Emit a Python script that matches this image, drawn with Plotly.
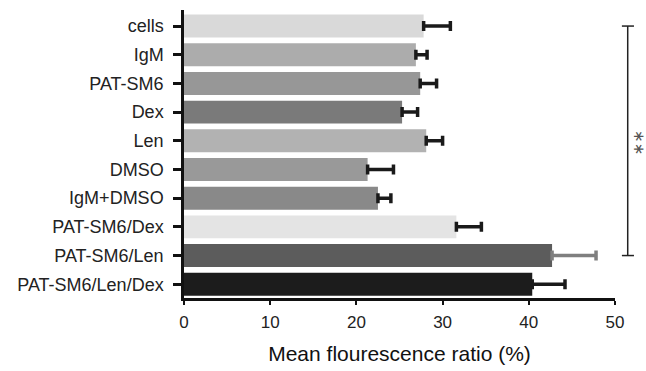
import plotly.graph_objects as go

categories = ["cells", "IgM", "PAT-SM6", "Dex", "Len", "DMSO", "IgM+DMSO",
              "PAT-SM6/Dex", "PAT-SM6/Len", "PAT-SM6/Len/Dex"]
means = [27.8, 26.9, 27.4, 25.3, 28.1, 21.3, 22.5, 31.6, 42.7, 40.4]
errors = [3.1, 1.3, 1.9, 1.8, 1.9, 3.0, 1.5, 2.9, 5.1, 3.8]
bar_colors = ["#d9d9d9", "#acacac", "#979797", "#7a7a7a", "#b2b2b2",
              "#999999", "#898989", "#e4e4e4", "#5c5c5c", "#1c1c1c"]
err_colors = ["#1a1a1a"] * 8 + ["#7f7f7f", "#1a1a1a"]
x_ticks = [0, 10, 20, 30, 40, 50]
sig_from, sig_to, sig_label = "cells", "PAT-SM6/Len", "∗∗"

order = categories[::-1]
font = "Liberation Sans, Arial, sans-serif"

fig = go.Figure()
for c, m, e, bc, ec in zip(categories, means, errors, bar_colors, err_colors):
    fig.add_trace(go.Bar(
        y=[c], x=[m], orientation="h", width=0.8,
        marker=dict(color=bc, line=dict(width=0)),
        error_x=dict(type="data", array=[e], arrayminus=[0], symmetric=False,
                     color=ec, thickness=3.5, width=5),
        showlegend=False, hoverinfo="skip",
    ))

y0 = order.index(sig_from)
y1 = order.index(sig_to)
line = dict(color="#222222", width=1.5)
fig.add_shape(type="line", xref="paper", yref="y", x0=1.0295, x1=1.0295, y0=y0, y1=y1, line=line)
fig.add_shape(type="line", xref="paper", yref="y", x0=1.016, x1=1.044, y0=y0, y1=y0, line=line)
fig.add_shape(type="line", xref="paper", yref="y", x0=1.016, x1=1.044, y0=y1, y1=y1, line=line)
fig.add_annotation(xref="paper", yref="y", x=1.056, xshift=10, y=(y0 + y1) / 2 - 0.05, text=sig_label,
                   textangle=90, showarrow=False, borderpad=0,
                   font=dict(size=15, color="#555555", family="DejaVu Sans, sans-serif"))

fig.update_layout(
    width=646, height=371,
    margin=dict(l=184, r=31, t=10, b=73),
    plot_bgcolor="white", paper_bgcolor="white",
    barmode="overlay",
    font=dict(family=font, color="#1a1a1a", size=18),
    xaxis=dict(range=[0, 50], tickvals=x_ticks, showgrid=False, zeroline=False,
               automargin=False,
               showline=True, linecolor="#111111", linewidth=2.5,
               ticks="outside", ticklen=4, tickwidth=2, tickcolor="#111111",
               ticklabelstandoff=3,
               tickfont=dict(size=17, color="#222222"),
               title=dict(text="Mean flourescence ratio (%)", font=dict(size=21, color="#111111"), standoff=16)),
    yaxis=dict(type="category", categoryorder="array", categoryarray=order,
               automargin=False,
               range=[-0.48, 9.56], showgrid=False, zeroline=False,
               showline=True, linecolor="#111111", linewidth=2.5,
               ticks="outside", ticklen=8, tickwidth=2.5, tickcolor="#111111",
               ticklabelstandoff=6,
               tickfont=dict(size=18, color="#222222")),
)

fig.write_html("out.html", config={"displayModeBar": False},
               post_script="document.body.style.margin='0';document.body.style.padding='0';")
